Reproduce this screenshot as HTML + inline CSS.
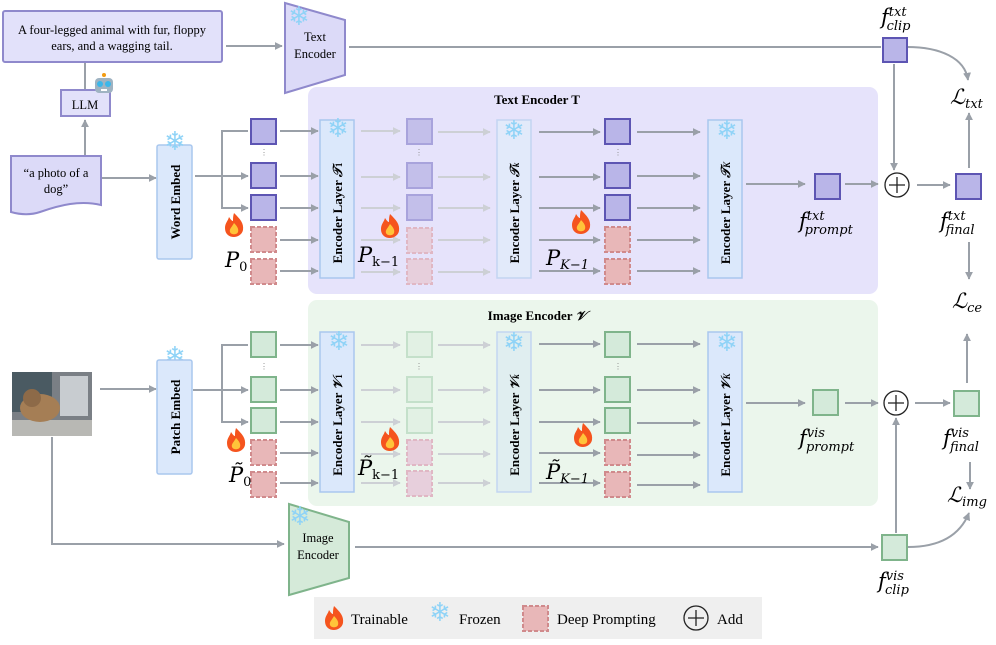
<!DOCTYPE html>
<html><head><meta charset="utf-8"><style>
html,body{margin:0;padding:0;background:#fff}
svg{display:block;font-family:"Liberation Serif",serif}
</style></head><body>
<svg width="996" height="645" viewBox="0 0 996 645" xmlns="http://www.w3.org/2000/svg">
<defs>
<marker id="a" viewBox="0 0 10 10" refX="9" refY="5" markerWidth="4" markerHeight="4" orient="auto"><path d="M0,0L10,5L0,10z" fill="#9aa0a8"/></marker>
<marker id="f" viewBox="0 0 10 10" refX="9" refY="5" markerWidth="4" markerHeight="4" orient="auto"><path d="M0,0L10,5L0,10z" fill="#cdd0d5"/></marker>
<g id="fire"><path d="M0,-12 C6,-6 10,-2 9,5 C8,10 3,12 0,12 C-5,12 -9,9 -9,3 C-9,-2 -6,-4 -5,-8 C-3,-5 -2,-4 -1,-4 C-1,-7 -1,-9 0,-12z" fill="#f5541e"/><path d="M0,-2 C3,1 5,4 4,7 C3,10 -3,10 -4,7 C-5,4 -2,2 0,-2z" fill="#ffc43a"/></g>
<g id="snow"><text x="0" y="9" font-size="26" text-anchor="middle" fill="#8fd3f7" font-family="DejaVu Sans,sans-serif">❄</text></g>
</defs>
<g stroke="#9aa0a8" stroke-width="2" fill="none">
<line x1="226" y1="46" x2="282" y2="46" marker-end="url(#a)"/>
<line x1="349" y1="47" x2="881" y2="47"/>
<path d="M907,47 C940,47 965,58 968,80" marker-end="url(#a)"/>
<line x1="85" y1="62" x2="85" y2="90"/>
<line x1="85" y1="155" x2="85" y2="120" marker-end="url(#a)"/>
<line x1="101" y1="178" x2="156" y2="178" marker-end="url(#a)"/>
<line x1="195" y1="176" x2="222" y2="176"/>
<polyline points="248,131 222,131 222,208 248,208" marker-end="url(#a)"/>
<line x1="222" y1="176" x2="248" y2="176" marker-end="url(#a)"/>
</g>
<rect x="3" y="11" width="219" height="51" fill="#e2e1fa" stroke="#8f89cc" stroke-width="2" rx="2"/>
<text x="112" y="34" font-size="12.5" text-anchor="middle">A four-legged animal with fur, floppy</text>
<text x="112" y="50" font-size="12.5" text-anchor="middle">ears, and a wagging tail.</text>
<path d="M285,3 L345,20 L345,75 L285,93z" fill="#dcdaf8" stroke="#8f89cc" stroke-width="2"/>
<use href="#snow" x="299" y="16"/>
<text x="315" y="41" font-size="12.5" text-anchor="middle">Text</text>
<text x="315" y="58" font-size="12.5" text-anchor="middle">Encoder</text>
<rect x="61" y="90" width="49" height="26" fill="#e2e1fa" stroke="#8f89cc" stroke-width="2"/>
<text x="85" y="109" font-size="12.5" text-anchor="middle">LLM</text>
<g transform="translate(104,86)"><rect x="-9" y="-8" width="18" height="15" rx="4" fill="#9fb3c2"/><circle cx="-4" cy="-2" r="3" fill="#3bb7ea"/><circle cx="4" cy="-2" r="3" fill="#3bb7ea"/><circle cx="0" cy="-11" r="2" fill="#f39c12"/><rect x="-3" y="3" width="6" height="2" fill="#fff"/></g>
<path d="M11,156 L101,156 L101,205 C80,200 60,205 40,212 C28,216 18,214 11,212z" fill="#dcdaf8" stroke="#8f89cc" stroke-width="2"/>
<text x="56" y="177" font-size="12.5" text-anchor="middle">“a photo of a</text>
<text x="56" y="193" font-size="12.5" text-anchor="middle">dog”</text>
<rect x="157" y="145" width="35" height="114" fill="#dbe8fb" stroke="#a9c7ee" stroke-width="1.5" rx="2"/>
<use href="#snow" x="175" y="141"/>
<text transform="translate(180,202) rotate(-90)" font-size="13" font-weight="bold" text-anchor="middle">Word Embed</text>

<rect x="308" y="87" width="570" height="207" rx="9" fill="#e6e3fb"/>
<text x="537" y="104" font-size="13" font-weight="bold" text-anchor="middle">Text Encoder T</text>
<rect x="308" y="300" width="570" height="206" rx="9" fill="#ebf6ec"/>
<text x="537" y="320" font-size="13" font-weight="bold" text-anchor="middle">Image Encoder <tspan font-style="italic">𝒱</tspan></text>

<g stroke="#9aa0a8" stroke-width="2" marker-end="url(#a)">
<line x1="280" y1="131" x2="318" y2="131"/><line x1="280" y1="176" x2="318" y2="176"/><line x1="280" y1="208" x2="318" y2="208"/><line x1="280" y1="240" x2="318" y2="240"/><line x1="280" y1="271" x2="318" y2="271"/>
<line x1="539" y1="132" x2="600" y2="132"/><line x1="539" y1="177" x2="600" y2="177"/><line x1="539" y1="208" x2="600" y2="208"/><line x1="539" y1="240" x2="600" y2="240"/><line x1="539" y1="271" x2="600" y2="271"/>
<line x1="637" y1="132" x2="700" y2="132"/><line x1="637" y1="176" x2="700" y2="176"/><line x1="637" y1="208" x2="700" y2="208"/><line x1="637" y1="240" x2="700" y2="240"/><line x1="637" y1="271" x2="700" y2="271"/>
</g>
<g stroke="#cdd0d5" stroke-width="2" marker-end="url(#f)">
<line x1="361" y1="131" x2="400" y2="131"/><line x1="361" y1="177" x2="400" y2="177"/><line x1="361" y1="208" x2="400" y2="208"/><line x1="361" y1="240" x2="400" y2="240"/><line x1="361" y1="272" x2="400" y2="272"/>
<line x1="438" y1="132" x2="490" y2="132"/><line x1="438" y1="177" x2="490" y2="177"/><line x1="438" y1="208" x2="490" y2="208"/><line x1="438" y1="240" x2="490" y2="240"/><line x1="438" y1="272" x2="490" y2="272"/>
</g>
<g stroke="#9aa0a8" stroke-width="2" fill="none">
<line x1="100" y1="389" x2="156" y2="389" marker-end="url(#a)"/>
<line x1="193" y1="390" x2="222" y2="390"/>
<polyline points="248,345 222,345 222,422 248,422" marker-end="url(#a)"/>
<line x1="222" y1="390" x2="248" y2="390" marker-end="url(#a)"/>
<polyline points="52,437 52,544 284,544" marker-end="url(#a)"/>
<line x1="355" y1="547" x2="878" y2="547" marker-end="url(#a)"/>
<path d="M908,547 C940,547 960,535 969,513" marker-end="url(#a)"/>
</g>
<g stroke="#9aa0a8" stroke-width="2" marker-end="url(#a)">
<line x1="280" y1="345" x2="318" y2="345"/><line x1="280" y1="390" x2="318" y2="390"/><line x1="280" y1="422" x2="318" y2="422"/><line x1="280" y1="453" x2="318" y2="453"/><line x1="280" y1="483" x2="318" y2="483"/>
<line x1="539" y1="344" x2="600" y2="344"/><line x1="539" y1="390" x2="600" y2="390"/><line x1="539" y1="422" x2="600" y2="422"/><line x1="539" y1="453" x2="600" y2="453"/><line x1="539" y1="483" x2="600" y2="483"/>
<line x1="637" y1="344" x2="700" y2="344"/><line x1="637" y1="390" x2="700" y2="390"/><line x1="637" y1="423" x2="700" y2="423"/><line x1="637" y1="455" x2="700" y2="455"/><line x1="637" y1="485" x2="700" y2="485"/>
</g>
<g stroke="#cdd0d5" stroke-width="2" marker-end="url(#f)">
<line x1="361" y1="345" x2="400" y2="345"/><line x1="361" y1="390" x2="400" y2="390"/><line x1="361" y1="422" x2="400" y2="422"/><line x1="361" y1="454" x2="400" y2="454"/><line x1="361" y1="483" x2="400" y2="483"/>
<line x1="438" y1="345" x2="490" y2="345"/><line x1="438" y1="390" x2="490" y2="390"/><line x1="438" y1="422" x2="490" y2="422"/><line x1="438" y1="454" x2="490" y2="454"/><line x1="438" y1="483" x2="490" y2="483"/>
</g>

<g stroke-width="2">
<g fill="#b9b5e8" stroke="#5d55b3">
<rect x="251" y="119" width="25" height="25"/><rect x="251" y="163" width="25" height="25"/><rect x="251" y="195" width="25" height="25"/>
<rect x="605" y="119" width="25" height="25"/><rect x="605" y="163" width="25" height="25"/><rect x="605" y="195" width="25" height="25"/>
</g>
<g fill="#c3bfea" stroke="#a8a3dc">
<rect x="407" y="119" width="25" height="25"/><rect x="407" y="163" width="25" height="25"/><rect x="407" y="195" width="25" height="25"/>
</g>
<g fill="#e8b7b8" stroke="#d08a8c" stroke-dasharray="4,2">
<rect x="251" y="227" width="25" height="25"/><rect x="251" y="259" width="25" height="25"/>
<rect x="605" y="227" width="25" height="25"/><rect x="605" y="259" width="25" height="25"/>
<rect x="251" y="440" width="25" height="25"/><rect x="251" y="472" width="25" height="25"/>
<rect x="605" y="440" width="25" height="25"/><rect x="605" y="472" width="25" height="25"/>
</g>
<g fill="#e7cfdc" stroke="#e0b7c4" stroke-dasharray="4,2">
<rect x="407" y="228" width="25" height="25"/><rect x="407" y="259" width="25" height="25"/>
<rect x="407" y="440" width="25" height="25"/><rect x="407" y="471" width="25" height="25"/>
</g>
<g fill="#d4eada" stroke="#7fb48b">
<rect x="251" y="332" width="25" height="25"/><rect x="251" y="377" width="25" height="25"/><rect x="251" y="408" width="25" height="25"/>
<rect x="605" y="332" width="25" height="25"/><rect x="605" y="377" width="25" height="25"/><rect x="605" y="408" width="25" height="25"/>
</g>
<g fill="#e2f1e4" stroke="#c4e0ca">
<rect x="407" y="332" width="25" height="25"/><rect x="407" y="377" width="25" height="25"/><rect x="407" y="408" width="25" height="25"/>
</g>
</g>
<g fill="#888" font-size="8" text-anchor="middle">
<text x="264" y="155">⋮</text><text x="419" y="155">⋮</text><text x="618" y="155">⋮</text>
<text x="264" y="369">⋮</text><text x="419" y="369">⋮</text><text x="618" y="369">⋮</text>
</g>

<g stroke-width="1.5">
<rect x="320" y="120" width="34" height="158" fill="#dbe8fb" stroke="#a9c7ee"/>
<rect x="497" y="120" width="34" height="158" fill="#e2eafa" stroke="#c3d5f1"/>
<rect x="708" y="120" width="34" height="158" fill="#dbe8fb" stroke="#a9c7ee"/>
<rect x="320" y="332" width="34" height="160" fill="#dbe8fb" stroke="#a9c7ee"/>
<rect x="497" y="332" width="34" height="160" fill="#e0eef0" stroke="#c3d5f1"/>
<rect x="708" y="332" width="34" height="160" fill="#dbe8fb" stroke="#a9c7ee"/>
</g>
<use href="#snow" x="338" y="128"/><use href="#snow" x="514" y="130"/><use href="#snow" x="727" y="130"/>
<use href="#snow" x="339" y="341"/><use href="#snow" x="514" y="342"/><use href="#snow" x="727" y="342"/>
<use href="#snow" x="175" y="356"/>
<g font-size="13" font-weight="bold" text-anchor="middle">
<text transform="translate(342,213) rotate(-90)">Encoder Layer <tspan font-style="italic">𝒯</tspan><tspan font-size="9">1</tspan></text>
<text transform="translate(519,213) rotate(-90)">Encoder Layer <tspan font-style="italic">𝒯</tspan><tspan font-size="9" font-style="italic">k</tspan></text>
<text transform="translate(730,213) rotate(-90)">Encoder Layer <tspan font-style="italic">𝒯</tspan><tspan font-size="9" font-style="italic">K</tspan></text>
<text transform="translate(342,425) rotate(-90)">Encoder Layer <tspan font-style="italic">𝒱</tspan><tspan font-size="9">1</tspan></text>
<text transform="translate(519,425) rotate(-90)">Encoder Layer <tspan font-style="italic">𝒱</tspan><tspan font-size="9" font-style="italic">k</tspan></text>
<text transform="translate(730,425) rotate(-90)">Encoder Layer <tspan font-style="italic">𝒱</tspan><tspan font-size="9" font-style="italic">K</tspan></text>
</g>

<rect x="157" y="360" width="35" height="114" fill="#dbe8fb" stroke="#a9c7ee" stroke-width="1.5" rx="2"/>
<text transform="translate(180,417) rotate(-90)" font-size="13" font-weight="bold" text-anchor="middle">Patch Embed</text>
<rect x="12" y="372" width="80" height="64" fill="#7a7f85"/>
<rect x="12" y="372" width="40" height="40" fill="#4a5a62"/>
<rect x="60" y="376" width="28" height="40" fill="#c8ccd0"/>
<rect x="12" y="420" width="80" height="16" fill="#b8b8b4"/>
<ellipse cx="40" cy="408" rx="20" ry="14" fill="#a57e55"/>
<ellipse cx="32" cy="398" rx="9" ry="9" fill="#8d6a48"/>
<path d="M289,504 L349,522 L349,578 L289,595z" fill="#d5ead9" stroke="#7fb48b" stroke-width="2"/>
<use href="#snow" x="300" y="516"/>
<text x="318" y="542" font-size="12.5" text-anchor="middle">Image</text>
<text x="318" y="559" font-size="12.5" text-anchor="middle">Encoder</text>

<g stroke="#9aa0a8" stroke-width="2" fill="none">
<line x1="746" y1="184" x2="805" y2="184" marker-end="url(#a)"/>
<line x1="845" y1="184" x2="878" y2="184" marker-end="url(#a)"/>
<line x1="917" y1="185" x2="950" y2="185" marker-end="url(#a)"/>
<line x1="894" y1="64" x2="894" y2="170" marker-end="url(#a)"/>
<line x1="969" y1="168" x2="969" y2="113" marker-end="url(#a)"/>
<line x1="969" y1="242" x2="969" y2="279" marker-end="url(#a)"/>
<line x1="746" y1="403" x2="805" y2="403" marker-end="url(#a)"/>
<line x1="845" y1="403" x2="878" y2="403" marker-end="url(#a)"/>
<line x1="915" y1="403" x2="950" y2="403" marker-end="url(#a)"/>
<line x1="896" y1="533" x2="896" y2="418" marker-end="url(#a)"/>
<line x1="967" y1="383" x2="967" y2="334" marker-end="url(#a)"/>
<line x1="970" y1="462" x2="970" y2="489" marker-end="url(#a)"/>
</g>
<g stroke-width="2">
<rect x="883" y="38" width="24" height="24" fill="#b9b5e8" stroke="#5d55b3"/>
<rect x="815" y="174" width="25" height="25" fill="#b9b5e8" stroke="#5d55b3"/>
<rect x="956" y="174" width="25" height="25" fill="#b9b5e8" stroke="#5d55b3"/>
<rect x="813" y="390" width="25" height="25" fill="#d4eada" stroke="#7fb48b"/>
<rect x="954" y="391" width="25" height="25" fill="#d4eada" stroke="#7fb48b"/>
<rect x="882" y="535" width="25" height="25" fill="#d4eada" stroke="#7fb48b"/>
</g>
<g fill="none" stroke="#222" stroke-width="1.3">
<circle cx="897" cy="185" r="12"/><path d="M889,185h16M897,177v16"/>
<circle cx="896" cy="403" r="12"/><path d="M888,403h16M896,395v16"/>
</g>

<g font-style="italic" font-size="21" font-family="DejaVu Serif,serif">
<text x="881" y="24">f<tspan font-size="13" dy="-8">txt</tspan><tspan font-size="13" dx="-20" dy="14">clip</tspan></text>
<text x="799" y="228">f<tspan font-size="13" dy="-8">txt</tspan><tspan font-size="13" dx="-20" dy="14">prompt</tspan></text>
<text x="940" y="228">f<tspan font-size="13" dy="-8">txt</tspan><tspan font-size="13" dx="-20" dy="14">final</tspan></text>
<text x="799" y="445">f<tspan font-size="13" dy="-8">vis</tspan><tspan font-size="13" dx="-19" dy="14">prompt</tspan></text>
<text x="943" y="445">f<tspan font-size="13" dy="-8">vis</tspan><tspan font-size="13" dx="-19" dy="14">final</tspan></text>
<text x="878" y="588">f<tspan font-size="13" dy="-8">vis</tspan><tspan font-size="13" dx="-19" dy="14">clip</tspan></text>
<text x="950" y="104">ℒ<tspan font-size="13" dy="4">txt</tspan></text>
<text x="952" y="308">ℒ<tspan font-size="13" dy="4">ce</tspan></text>
<text x="947" y="502">ℒ<tspan font-size="13" dy="4">img</tspan></text>
<text x="225" y="267">P<tspan font-size="13" font-style="normal" dy="4">0</tspan></text>
<text x="358" y="262">P<tspan font-size="13" font-style="normal" dy="4">k−1</tspan></text>
<text x="546" y="265">P<tspan font-size="13" dy="4">K−1</tspan></text>
<text x="229" y="482">P̃<tspan font-size="13" font-style="normal" dy="4">0</tspan></text>
<text x="358" y="475">P̃<tspan font-size="13" font-style="normal" dy="4">k−1</tspan></text>
<text x="546" y="479">P̃<tspan font-size="13" dy="4">K−1</tspan></text>
</g>
<use href="#fire" x="234" y="225"/><use href="#fire" x="390" y="226"/><use href="#fire" x="581" y="222"/>
<use href="#fire" x="236" y="440"/><use href="#fire" x="390" y="439"/><use href="#fire" x="583" y="435"/>

<rect x="314" y="597" width="448" height="42" fill="#efefef"/>
<use href="#fire" x="334" y="618"/>
<text x="351" y="624" font-size="15">Trainable</text>
<use href="#snow" x="440" y="612"/>
<text x="459" y="624" font-size="15">Frozen</text>
<rect x="523" y="606" width="25" height="25" fill="#e8b7b8" stroke="#d08a8c" stroke-width="2" stroke-dasharray="4,2"/>
<text x="557" y="624" font-size="15">Deep Prompting</text>
<circle cx="696" cy="618" r="12" fill="none" stroke="#222" stroke-width="1.3"/><path d="M688,618h16M696,610v16" stroke="#222" stroke-width="1.3"/>
<text x="717" y="624" font-size="15">Add</text>
</svg>
</body></html>
